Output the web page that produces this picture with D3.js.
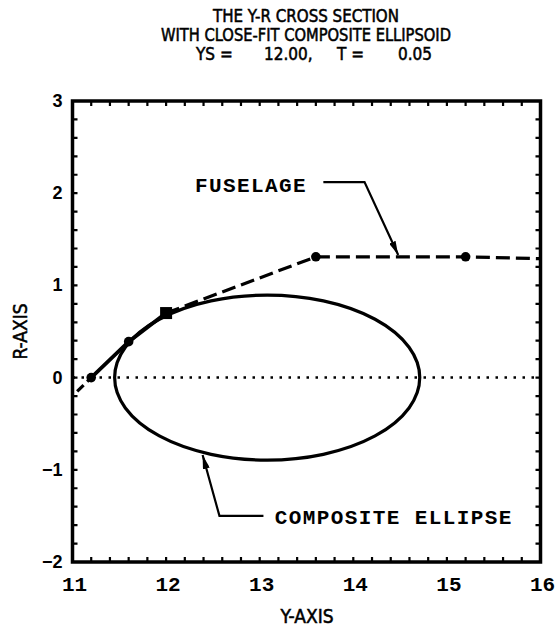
<!DOCTYPE html>
<html>
<head>
<meta charset="utf-8">
<script src="https://cdn.jsdelivr.net/npm/d3@7"></script>
<style>
  body { margin: 0; background: #fff; }
  svg { display: block; }
  .title { font-family: "Liberation Sans Narrow", "DejaVu Sans Condensed", sans-serif; font-size: 17px; stroke: #000; stroke-width: 0.5px; }
  .mono { font-family: "Liberation Mono", "DejaVu Sans Mono", monospace; font-weight: bold; }
  .axlab { font-family: "Liberation Sans Narrow", "DejaVu Sans Condensed", sans-serif; font-size: 19px; stroke: #000; stroke-width: 0.5px; }
  .ylab { font-family: "Liberation Sans", sans-serif; font-size: 18px; font-weight: bold; }
</style>
</head>
<body>
<script>
// tick labels
const xTicks = [11, 12, 13, 14, 15, 16];
const yTicks = [-2, -1, 0, 1, 2, 3];

// fuselage cross section (Y, R)
const fuselageY = [11.05, 11.2, 11.6, 12.0, 13.6, 15.2, 16.0];
const fuselageR = [-0.15, 0.0, 0.39, 0.70, 1.31, 1.31, 1.29];

// marked points
const dotY = [11.2, 11.6, 13.6, 15.2];
const dotR = [0.0, 0.39, 1.31, 1.31];
const squareY = [12.0];
const squareR = [0.70];

// composite ellipse: left end, centre, right end (Y) and half height (R)
const ellipseLeft = 11.45;
const ellipseCentre = 13.08;
const ellipseRight = 14.71;
const ellipseHalfR = 0.895;

const titleLines = ["THE Y-R CROSS SECTION", "WITH CLOSE-FIT COMPOSITE ELLIPSOID"];
const subParts = ["YS =", "12.00,", "T =", "0.05"];

const width = 558, height = 638;
const margin = {left: 72.5, right: 17.5, top: 101, bottom: 76};

const svg = d3.select("body").append("svg")
    .attr("width", width)
    .attr("height", height);

const x = d3.scaleLinear().domain([11, 16]).range([margin.left, width - margin.right]);
const y = d3.scaleLinear().domain([-2, 3]).range([height - margin.bottom, margin.top]);

// title
svg.selectAll("text.t").data(titleLines)
    .enter().append("text")
        .attr("class", "title")
        .attr("x", 306)
        .attr("y", (d, i) => 22 + i * 19)
        .attr("text-anchor", "middle")
        .attr("textLength", (d, i) => [186, 290][i])
        .attr("lengthAdjust", "spacingAndGlyphs")
        .text(d => d);

const sub = svg.append("text").attr("class", "title").attr("y", 60);
sub.selectAll("tspan").data(subParts)
    .enter().append("tspan")
        .attr("x", (d, i) => [196, 264, 337, 398][i])
        .text(d => d);

// frame
svg.append("rect")
    .attr("x", x(11)).attr("y", y(3))
    .attr("width", x(16) - x(11)).attr("height", y(-2) - y(3))
    .attr("fill", "none").attr("stroke", "#000").attr("stroke-width", 3.5);

// ticks every 0.2, inward on all four sides
const minorX = d3.range(11, 16.001, 0.2);
const minorR = d3.range(-2, 3.001, 0.2);
const tickLen = 5;

const tickPaths = [];
minorX.forEach(d => {
  tickPaths.push(`M${x(d)},${y(-2)}v${-tickLen}`);
  tickPaths.push(`M${x(d)},${y(3)}v${tickLen}`);
});
minorR.forEach(d => {
  tickPaths.push(`M${x(11)},${y(d)}h${tickLen}`);
  tickPaths.push(`M${x(16)},${y(d)}h${-tickLen}`);
});
svg.append("path")
    .attr("d", tickPaths.join(""))
    .attr("fill", "none")
    .style("stroke", "#000")
    .style("stroke-width", "2.2px");

svg.selectAll("text.xt").data(xTicks)
    .enter().append("text")
        .attr("class", "mono")
        .attr("x", d => x(d) + 2)
        .attr("y", 591)
        .attr("text-anchor", "middle")
        .style("font-size", "21px")
        .text(d => d);

svg.selectAll("text.yt").data(yTicks)
    .enter().append("text")
        .attr("class", "ylab")
        .attr("x", x(11) - 10)
        .attr("y", d => y(d) + 6)
        .attr("text-anchor", "end")
        .text(d => d < 0 ? "\u2212" + Math.abs(d) : d);

svg.append("text").attr("class", "axlab")
    .attr("x", 307).attr("y", 623)
    .attr("text-anchor", "middle")
    .text("Y-AXIS");
svg.append("text").attr("class", "axlab")
    .attr("transform", `translate(27,${(y(3) + y(-2)) / 2}) rotate(-90)`)
    .attr("text-anchor", "middle")
    .text("R-AXIS");

// zero line
svg.append("line")
    .attr("x1", x(11)).attr("x2", x(16))
    .attr("y1", y(0)).attr("y2", y(0))
    .attr("stroke", "#000").attr("stroke-width", 2.5)
    .attr("stroke-dasharray", "2.5,6.5");

// composite ellipse
const cx = x(ellipseCentre), ry = y(0) - y(ellipseHalfR);
const rxL = cx - x(ellipseLeft), rxR = x(ellipseRight) - cx;
svg.append("path")
    .attr("d", `M${cx},${y(ellipseHalfR)} A${rxR},${ry} 0 0 1 ${cx},${y(-ellipseHalfR)} A${rxL},${ry} 0 0 1 ${cx},${y(ellipseHalfR)}`)
    .attr("fill", "none").attr("stroke", "#000").attr("stroke-width", 3.2);

// fuselage: dashed outside the fit region, solid within it
const fus = fuselageY.map((d, i) => [d, fuselageR[i]]);
const line = d3.line().x(d => x(d[0])).y(d => y(d[1]));
svg.append("path").attr("d", line(fus.slice(0, 2)))
    .attr("fill", "none").attr("stroke", "#000").attr("stroke-width", 3.2)
    .attr("stroke-dasharray", "9,5");
svg.append("path").attr("d", line(fus.slice(1, 4)))
    .attr("fill", "none").attr("stroke", "#000").attr("stroke-width", 3.8);
svg.append("path").attr("d", line(fus.slice(3)))
    .attr("fill", "none").attr("stroke", "#000").attr("stroke-width", 3.2)
    .attr("stroke-dasharray", "14,6");

svg.selectAll("circle.pt").data(dotY)
    .enter().append("circle")
        .attr("cx", d => x(d))
        .attr("cy", (d, i) => y(dotR[i]))
        .attr("r", 4.8)
        .attr("fill", "#000");
svg.selectAll("rect.sq").data(squareY)
    .enter().append("rect")
        .attr("x", d => x(d) - 6)
        .attr("y", (d, i) => y(squareR[i]) - 6)
        .attr("width", 12).attr("height", 12)
        .attr("fill", "#000");

// annotations with arrow leaders
svg.append("defs").append("marker")
    .attr("id", "arr")
    .attr("viewBox", "0 0 14 7")
    .attr("refX", 14).attr("refY", 3.5)
    .attr("markerWidth", 14).attr("markerHeight", 7)
    .attr("markerUnits", "userSpaceOnUse")
    .attr("orient", "auto")
  .append("path").attr("d", "M0,0 L14,3.5 L0,7 Z").attr("fill", "#000");

const leader = d3.line().x(d => x(d[0])).y(d => y(d[1]));
svg.append("path")
    .attr("d", leader([[13.68, 2.12], [14.12, 2.12], [14.48, 1.33]]))
    .attr("fill", "none").attr("stroke", "#000").attr("stroke-width", 2.2)
    .attr("marker-end", "url(#arr)");
svg.append("path")
    .attr("d", leader([[13.04, -1.50], [12.57, -1.50], [12.39, -0.84]]))
    .attr("fill", "none").attr("stroke", "#000").attr("stroke-width", 2.2)
    .attr("marker-end", "url(#arr)");

svg.append("text").attr("class", "mono")
    .attr("x", x(12.31)).attr("y", y(2.09) + 7)
    .style("font-size", "21px").style("letter-spacing", "1.4px")
    .text("FUSELAGE");
svg.append("text").attr("class", "mono")
    .attr("x", x(13.16)).attr("y", y(-1.51) + 7)
    .style("font-size", "21px").style("letter-spacing", "1.4px")
    .text("COMPOSITE ELLIPSE");
</script>
</body>
</html>
